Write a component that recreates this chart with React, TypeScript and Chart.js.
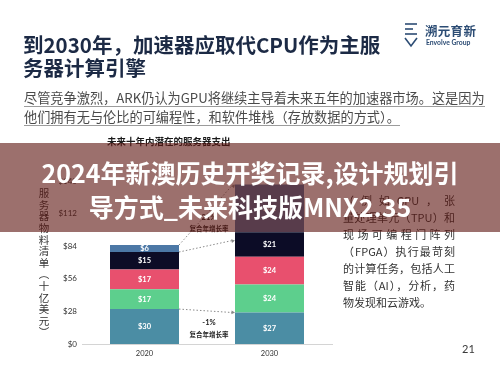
import React, { useEffect, useRef } from "react";
import { Chart, registerables } from "chart.js";

Chart.register(...registerables);

// ---- data ----
const categories = ["2020", "2030"];
const seriesNames = ["CPU", "内存", "存储", "网络", "加速器"];
const cpuValues = [30, 27];
const memoryValues = [17, 24];
const storageValues = [17, 24];
const networkValues = [15, 21];
const acceleratorValues = [6, 41];
const yTicks = [0, 28, 56, 84, 112, 140];
// dotted connectors: value at 2020 bar edge -> value at 2030 bar edge
const connectorFrom = [85, 79, 30];
const connectorTo = [137, 89, 27];
// CAGR annotations
const cagrRates = ["21%", "-1%"];
const cagrAt = [109, 18];
const cagrCaption = "复合年增长率";

const segColors = ["#4b8da4", "#5dcf8d", "#e8506e", "#0c0c26", "#4c78a6"];

const CJK = "'Noto Sans CJK SC', 'Noto Sans', sans-serif";
const NUM = "Lato, 'Noto Sans', sans-serif";

const overlayPlugin = {
  id: "overlay",
  afterDatasetsDraw(chart: any) {
    const ctx = chart.ctx;
    const ys = chart.scales.y;
    ctx.save();
    // segment labels
    ctx.fillStyle = "#ffffff";
    ctx.textAlign = "center";
    ctx.textBaseline = "middle";
    ctx.font = `bold 7.5px ${NUM}`;
    chart.data.datasets.forEach((ds: any, di: number) => {
      const meta = chart.getDatasetMeta(di);
      meta.data.forEach((bar: any, i: number) => {
        const p = bar.getProps(["x", "y", "base"], true);
        ctx.fillText("$" + ds.data[i], p.x, (p.y + p.base) / 2);
      });
    });
    // connectors
    const m = chart.getDatasetMeta(0);
    const b0 = m.data[0];
    const b1 = m.data[1];
    const x0 = b0.x + b0.width / 2;
    const x1 = b1.x - b1.width / 2;
    ctx.strokeStyle = "#8a8a8a";
    ctx.fillStyle = "#8a8a8a";
    ctx.lineWidth = 1;
    connectorFrom.forEach((v, i) => {
      const y0 = ys.getPixelForValue(v);
      const y1 = ys.getPixelForValue(connectorTo[i]);
      ctx.setLineDash([1.5, 2]);
      ctx.beginPath();
      ctx.moveTo(x0, y0);
      ctx.lineTo(x1 - 2, y1);
      ctx.stroke();
      ctx.setLineDash([]);
      const ang = Math.atan2(y1 - y0, x1 - x0);
      ctx.beginPath();
      ctx.moveTo(x1, y1);
      ctx.lineTo(x1 - 4 * Math.cos(ang - 0.5), y1 - 4 * Math.sin(ang - 0.5));
      ctx.lineTo(x1 - 4 * Math.cos(ang + 0.5), y1 - 4 * Math.sin(ang + 0.5));
      ctx.closePath();
      ctx.fill();
    });
    // CAGR labels
    const cx = (x0 + x1) / 2 + 2;
    ctx.fillStyle = "#222222";
    cagrRates.forEach((r, i) => {
      const y = ys.getPixelForValue(cagrAt[i]);
      ctx.font = `bold 7.5px ${NUM}`;
      ctx.fillText(r, cx, y);
      ctx.font = `bold 6.5px ${CJK}`;
      ctx.fillText(cagrCaption, cx, y + 11);
    });
    ctx.restore();
  },
};

export default function App() {
  const ref = useRef<HTMLCanvasElement>(null);
  useEffect(() => {
    document.body.style.margin = "0";
    const valuesList = [cpuValues, memoryValues, storageValues, networkValues, acceleratorValues];
    const chart = new Chart(ref.current as HTMLCanvasElement, {
      type: "bar",
      data: {
        labels: categories,
        datasets: valuesList.map((vals, i) => ({
          label: seriesNames[i],
          data: vals,
          backgroundColor: segColors[i],
          borderWidth: 0,
          barPercentage: 0.552,
          categoryPercentage: 1,
        })),
      },
      options: {
        responsive: false,
        animation: false,
        layout: { padding: { left: 42, right: 168, top: 181, bottom: 7 } },
        plugins: { legend: { display: false }, tooltip: { enabled: false } },
        scales: {
          x: {
            stacked: true,
            grid: { display: false, drawTicks: false },
            border: { display: true, color: "#d4d4d4", width: 1 },
            ticks: { font: { family: NUM, size: 7.5 }, color: "#333", padding: 5 },
            afterFit: (s: any) => {
              s.height = 24;
            },
          },
          y: {
            stacked: true,
            min: 0,
            max: 140,
            grid: { display: false, drawTicks: false },
            border: { display: false },
            ticks: {
              font: { family: NUM, size: 8 },
              color: "#333",
              padding: 5,
              callback: (v: any) => "$" + v,
            },
            afterBuildTicks: (s: any) => {
              s.ticks = yTicks.map((v) => ({ value: v }));
            },
            afterFit: (s: any) => {
              s.width = 40;
            },
          },
        },
      },
      plugins: [overlayPlugin],
    } as any);
    return () => chart.destroy();
  }, []);

  const abs = (o: any): any => ({ position: "absolute", whiteSpace: "nowrap", ...o });
  const paraLines = [
    "（例如GPU，张",
    "量处理单元（TPU）和",
    "现场可编程门阵列",
    "（FPGA）执行最苛刻",
    "的计算任务，包括人工",
    "智能（AI），分析，药",
    "物发现和云游戏。",
  ];

  return (
    <div
      style={{
        position: "fixed",
        left: 0,
        top: 0,
        width: 500,
        height: 375,
        background: "#ffffff",
        overflow: "hidden",
        fontFamily: CJK,
      }}
    >
      <canvas ref={ref} width={500} height={375} style={{ position: "absolute", left: 0, top: 0, width: 500, height: 375 }} />

      {/* title */}
      <div style={abs({ left: 23, top: 32, fontSize: 20.5, lineHeight: "24px", fontWeight: 700, color: "#1c2a45" })}>
        到2030年，加速器应取代CPU作为主服
      </div>
      <div style={abs({ left: 23, top: 55, fontSize: 20.5, lineHeight: "24px", fontWeight: 700, color: "#1c2a45" })}>
        务器计算引擎
      </div>

      {/* logo */}
      <svg style={abs({ left: 404, top: 22 })} width={14} height={26} viewBox="0 0 14 26">
        <g fill="none" stroke="#2c4c74" strokeWidth={1.6}>
          <line x1={1} y1={2} x2={13} y2={2} />
          <line x1={1} y1={7} x2={9} y2={7} />
          <line x1={1} y1={12} x2={13} y2={12} />
          <polyline points="1,16 7,24 13,16" />
        </g>
      </svg>
      <div style={abs({ left: 425, top: 23, fontSize: 12.5, lineHeight: "16px", fontWeight: 700, color: "#2c4c74", letterSpacing: 0.3 })}>
        溯元育新
      </div>
      <div style={abs({ left: 426, top: 38, fontSize: 6.8, lineHeight: "8px", fontWeight: 700, color: "#2c4c74", fontFamily: NUM })}>
        Envolve Group
      </div>

      {/* subtitle */}
      <div style={abs({ left: 24, top: 90, fontSize: 13.2, lineHeight: "16px", color: "#4a4a4a" })}>
        <span style={{ display: "inline-block", borderBottom: "1px solid #9c9c9c" }}>
          尽管竞争激烈，ARK仍认为GPU将继续主导着未来五年的加速器市场。这是因为
        </span>
      </div>
      <div style={abs({ left: 24, top: 109, fontSize: 13.2, lineHeight: "16px", color: "#4a4a4a" })}>
        <span style={{ display: "inline-block", borderBottom: "1px solid #9c9c9c" }}>
          他们拥有无与伦比的可编程性，和软件堆栈（存放数据的方式）。
        </span>
      </div>

      {/* chart title */}
      <div style={abs({ left: 107, top: 135, fontSize: 9.5, lineHeight: "12px", fontWeight: 700, color: "#1a1a1a" })}>
        未来十年内潜在的服务器支出
      </div>

      {/* y axis title */}
      <div
        style={abs({
          left: 38,
          top: 188,
          fontSize: 10.5,
          lineHeight: "10.5px",
          letterSpacing: 1.1,
          color: "#333",
          writingMode: "vertical-rl",
        })}
      >
        服务器物料清单（十亿美元）
      </div>

      {/* right paragraph */}
      {paraLines.map((t, i) => (
        <div
          key={i}
          style={{
            position: "absolute",
            left: 343,
            width: 112,
            top: 192 + i * 17,
            fontSize: 11,
            lineHeight: "17px",
            color: "#333",
            textAlign: "justify",
            textAlignLast: i === paraLines.length - 1 ? "left" : "justify",
            whiteSpace: "nowrap",
          } as any}
        >
          {t}
        </div>
      ))}

      {/* page number */}
      <div style={abs({ left: 462, top: 342, fontSize: 11, lineHeight: "14px", color: "#3a3a3a", fontFamily: NUM })}>21</div>

      {/* banner overlay */}
      <div style={abs({ left: 0, top: 143, width: 500, height: 89, background: "rgba(95,25,20,0.62)", zIndex: 2 })} />
      <div
        style={abs({
          left: 0,
          width: 500,
          top: 157,
          fontSize: 25,
          lineHeight: "30px",
          fontWeight: 700,
          color: "#ffffff",
          textAlign: "center",
          zIndex: 3,
        })}
      >
        2024年新澳历史开奖记录,设计规划引
      </div>
      <div
        style={abs({
          left: 0,
          width: 500,
          top: 191,
          fontSize: 25,
          lineHeight: "30px",
          fontWeight: 700,
          color: "#ffffff",
          textAlign: "center",
          zIndex: 3,
        })}
      >
        导方式_未来科技版MNX2.35
      </div>
    </div>
  );
}
